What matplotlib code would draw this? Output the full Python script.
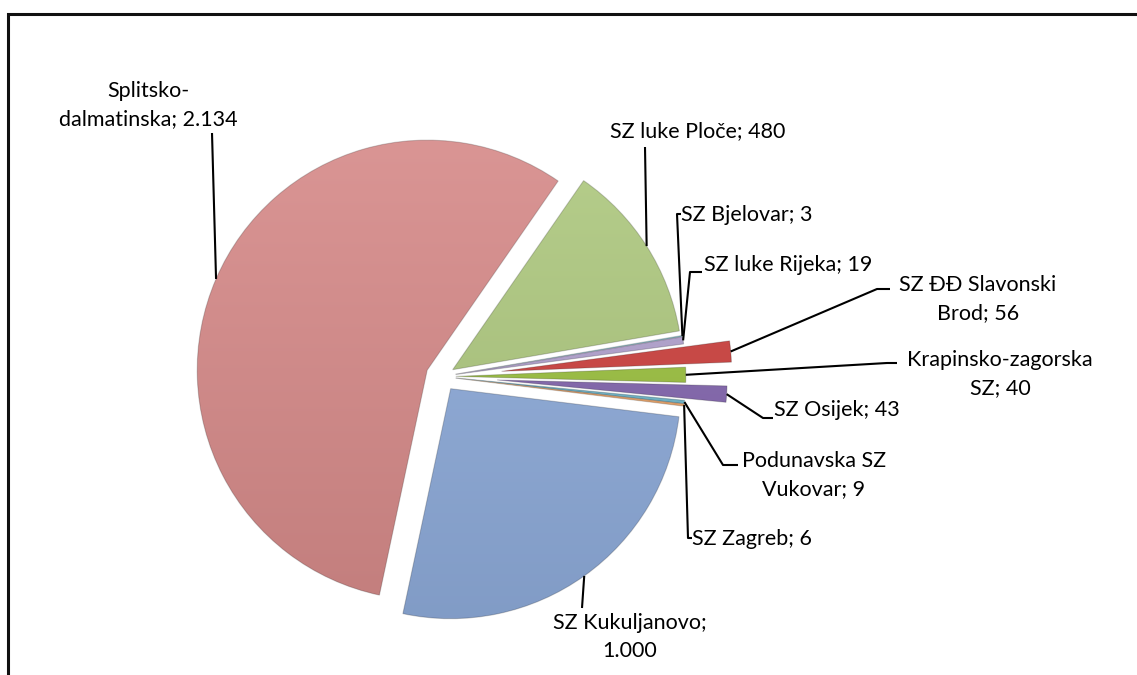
import numpy as np
import matplotlib
matplotlib.use("Agg")
import matplotlib.pyplot as plt
from matplotlib.patches import Rectangle

# ---- data (clockwise order starting at the top-right green slice) ----
names = ["SZ luke Ploče", "SZ Bjelovar", "SZ luke Rijeka", "SZ ĐĐ Slavonski\nBrod",
         "Krapinsko-zagorska\nSZ", "SZ Osijek", "Podunavska SZ\nVukovar", "SZ Zagreb",
         "SZ Kukuljanovo;\n", "Splitsko-\ndalmatinska"]
values = [480, 3, 19, 56, 40, 43, 9, 6, 1000, 2134]
value_labels = ["480", "3", "19", "56", "40", "43", "9", "6", "1.000", "2.134"]

# ---- style / layout ----
colors = ["#B0CB80", "#93CDDD", "#B4A4D2", "#D0413E", "#9DC33F", "#8466B0",
          "#6FB7CC", "#F2A869", "#8FADDD", "#D98B8A"]
explode_frac = [0.055, 0.06, 0.06, 0.26, 0.06, 0.24, 0.06, 0.06, 0.065, 0.07]

W, H = 1137, 675
fig = plt.figure(figsize=(W / 100, H / 100), dpi=100)
ax = fig.add_axes([0, 0, 1, 1])

def Y(y):
    return H - y

cx, cy, R = 442, 376.5, 230
start = 55.3
wedges, _ = ax.pie(values, colors=colors, explode=[e * R for e in explode_frac],
                   startangle=start, counterclock=False, radius=R,
                   center=(cx, Y(cy)), frame=True,
                   wedgeprops=dict(linewidth=0.8, edgecolor="#00000030"))
ax.set_xlim(0, W)
ax.set_ylim(0, H)
ax.set_aspect("equal")
ax.axis("off")

# gradient shading clipped to each wedge (light top, darker bottom)
grad = np.linspace(1.0, 0.0, 256).reshape(-1, 1)
for w in wedges:
    im = ax.imshow(grad, extent=(0, W, Y(cy + R + 80), Y(cy - R - 80)), cmap="gray",
                   alpha=0.12, vmin=0, vmax=1, aspect="auto", zorder=w.get_zorder() + 0.1)
    im.set_clip_path(w)
ax.set_xlim(0, W)
ax.set_ylim(0, H)

# label layout: text position (image px), alignment, leader points near label
label_pos = [(698, 131, "center"), (681, 215, "left"), (704, 265, "left"),
             (978, 299, "center"), (1000, 374, "center"), (774, 410, "left"),
             (814, 475, "center"), (692, 539, "left"), (630, 637, "center"),
             (148, 105, "center")]
leaders = [[(645, 147)], [(681, 214), (677, 214)], [(702, 272), (690, 272)],
           [(890, 289), (877, 289)], [(897, 363), (887, 363)],
           [(773, 418), (763, 418)], [(738, 465), (723, 465)],
           [(692, 538), (688, 538)], [(582, 608)], [(212, 133)]]

font = ["Lato", "DejaVu Sans"]
for i, w in enumerate(wedges):
    th = np.deg2rad((w.theta1 + w.theta2) / 2)
    px = w.center[0] + w.r * np.cos(th)
    py = w.center[1] + w.r * np.sin(th)
    pts = [(x, Y(y)) for x, y in leaders[i]] + [(px, py)]
    xs, ys = zip(*pts)
    ax.plot(xs, ys, color="black", lw=1.5, solid_capstyle="butt", zorder=5)
    n = names[i]
    if n.endswith(";\n"):
        txt = n + value_labels[i]
    else:
        txt = f"{n}; {value_labels[i]}"
    x, y, ha = label_pos[i]
    ax.text(x, Y(y), txt, ha=ha, va="center", fontsize=15.5, family=font,
            color="black", linespacing=1.5, zorder=6)

# chart frame
ax.add_patch(Rectangle((8, -20), W + 20, Y(14) + 20, fill=False, lw=2.2,
                       edgecolor="#111111", zorder=7, clip_on=False))

fig.savefig("out.png", dpi=100)
